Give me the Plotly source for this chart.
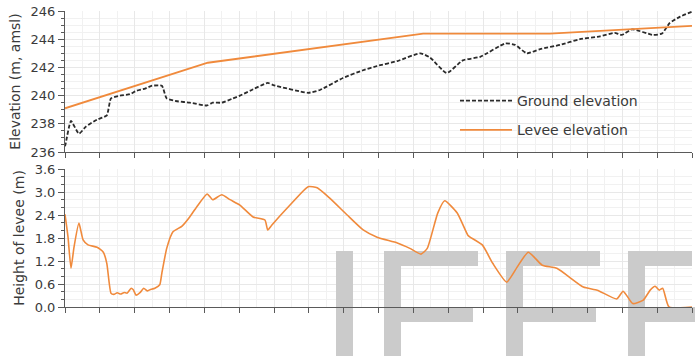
import plotly.graph_objects as go

# Chainage along the profile (m, plotting scale) and ground elevation (m amsl)
ground_x = [0, 1, 8.6, 20, 30, 46, 60, 66, 79, 93, 103, 115, 125, 139, 146, 161,
            179, 204, 212, 225, 241, 251, 266, 291, 299, 349, 366, 399, 428, 448,
            477, 510, 524, 548, 571, 596, 632, 646, 663, 682, 711, 739, 768, 789,
            799, 814, 844, 857, 868, 883, 900]
ground_z = [236.4, 236.6, 238.2, 237.3, 237.8, 238.3, 238.6, 239.8, 240.0, 240.1,
            240.35, 240.5, 240.7, 240.7, 239.8, 239.6, 239.5, 239.3, 239.5, 239.5,
            239.8, 240.0, 240.35, 240.9, 240.75, 240.2, 240.4, 241.25, 241.8, 242.1,
            242.45, 243.0, 242.7, 241.6, 242.5, 242.75, 243.7, 243.6, 243.0, 243.3,
            243.6, 244.0, 244.2, 244.45, 244.3, 244.7, 244.3, 244.4, 245.15, 245.6,
            245.95]

# Levee crest elevation (m amsl)
levee_x = [0, 205, 514, 696, 900]
levee_z = [239.1, 242.33, 244.4, 244.4, 244.95]

# Height of levee above ground (m)
height_x = [0, 4.3, 8.6, 13, 20, 26, 33, 46, 55, 60, 66, 70, 75, 80, 85, 89, 95,
            98, 102, 108, 113, 118, 122, 129, 136, 139, 146, 155, 168, 179, 189,
            204, 212, 225, 237, 251, 270, 287, 291, 297, 323, 349, 362, 380, 405,
            428, 448, 477, 495, 511, 520, 535, 545, 563, 578, 581, 599, 614, 634,
            649, 665, 685, 706, 744, 764, 792, 801, 807, 815, 830, 840, 847, 853,
            858, 867, 900]
height_h = [2.42, 1.83, 1.01, 1.57, 2.19, 1.75, 1.62, 1.56, 1.43, 1.14, 0.36, 0.33,
            0.37, 0.34, 0.38, 0.36, 0.49, 0.45, 0.31, 0.38, 0.49, 0.42, 0.45, 0.49,
            0.58, 0.88, 1.53, 1.96, 2.11, 2.35, 2.61, 2.95, 2.80, 2.93, 2.80, 2.66,
            2.35, 2.27, 2.01, 2.14, 2.66, 3.14, 3.11, 2.84, 2.40, 2.01, 1.82, 1.67,
            1.53, 1.38, 1.53, 2.45, 2.77, 2.45, 1.88, 1.83, 1.62, 1.14, 0.65, 1.04,
            1.43, 1.09, 1.01, 0.52, 0.44, 0.21, 0.41, 0.28, 0.09, 0.18, 0.44, 0.54,
            0.44, 0.49, 0.0, 0.0]

# Category labels printed under the distance axis
dist_labels = ["0", "187", "279", "362", "453", "556", "602", "651", "709",
               "750", "803", "861", "906"]

ORANGE = "#F08A3C"
AXIS = "#5a5a5a"
GRID = "#e8e8e8"
GRID_MINOR = "#f1f1f1"
TEXT = "#3a3a3a"
FONT = "DejaVu Sans"

label_pos = [5] + [86 + 69.8 * k for k in range(len(dist_labels) - 1)]

fig = go.Figure()
fig.add_trace(go.Scatter(x=ground_x, y=ground_z, mode="lines", name="Ground elevation",
                         line=dict(color="#2b2b2b", width=1.8, dash="4px,2px",
                                   shape="spline", smoothing=0.5),
                         xaxis="x", yaxis="y", legend="legend"))
fig.add_trace(go.Scatter(x=levee_x, y=levee_z, mode="lines", name="Levee elevation",
                         line=dict(color=ORANGE, width=1.8),
                         xaxis="x", yaxis="y", legend="legend2"))
fig.add_trace(go.Scatter(x=height_x, y=height_h, mode="lines", name="Height of levee",
                         line=dict(color=ORANGE, width=1.6, shape="spline",
                                   smoothing=0.5),
                         showlegend=False, xaxis="x2", yaxis="y2"))

common_x = dict(range=[0, 900], tickmode="linear", tick0=0, dtick=50,
                ticks="outside", ticklen=5, tickcolor=AXIS, showticklabels=False,
                showline=True, linecolor=AXIS, linewidth=1, zeroline=False,
                showgrid=True, gridcolor=GRID,
                minor=dict(dtick=25, showgrid=True, gridcolor=GRID_MINOR, ticks=""))
common_y = dict(ticks="outside", ticklen=6, tickcolor=AXIS, showline=True,
                linecolor=AXIS, linewidth=1, zeroline=False, showgrid=True,
                gridcolor=GRID, tickfont=dict(family=FONT, size=13, color=TEXT),
                title_font=dict(family=FONT, size=14, color=TEXT), title_standoff=6)

top_dom = [0.5236, 1.0]
bot_dom = [0.0, 0.4662]

fig.update_layout(
    width=695, height=356,
    margin=dict(l=65, r=3, t=11, b=49),
    paper_bgcolor="white", plot_bgcolor="rgba(0,0,0,0)",
    xaxis=dict(domain=[0, 1], anchor="y", **common_x),
    yaxis=dict(domain=top_dom, anchor="x", range=[236, 246], tickmode="linear",
               tick0=236, dtick=2, title_text="Elevation (m, amsl)",
               minor=dict(dtick=0.5, ticks="outside", ticklen=3, tickcolor=AXIS,
                          showgrid=True, gridcolor=GRID_MINOR),
               **common_y),
    xaxis2=dict(domain=[0, 1], anchor="y2", **common_x),
    xaxis3=dict(overlaying="x2", anchor="y2", side="bottom", range=[0, 900],
                tickmode="array", tickvals=label_pos, ticktext=dist_labels,
                ticks="", showline=False, showgrid=False, zeroline=False,
                tickfont=dict(family=FONT, size=13, color=TEXT),
                title_text="Distance from the base of the treatment site (m)",
                title_font=dict(family=FONT, size=15, color=TEXT), title_standoff=4),
    yaxis2=dict(domain=bot_dom, anchor="x2", range=[0, 3.6], tickmode="linear",
                tick0=0, dtick=0.6, tickformat=".1f", title_text="Height of levee (m)",
                minor=dict(dtick=0.2, ticks="outside", ticklen=3, tickcolor=AXIS,
                           showgrid=True, gridcolor=GRID_MINOR),
                **common_y),
    legend=dict(x=0.622, y=0.696, xanchor="left", yanchor="middle",
                bgcolor="rgba(0,0,0,0)", itemwidth=52,
                font=dict(family=FONT, size=14, color=TEXT)),
    legend2=dict(x=0.622, y=0.597, xanchor="left", yanchor="middle",
                 bgcolor="rgba(0,0,0,0)", itemwidth=52,
                 font=dict(family=FONT, size=14, color=TEXT)),
)

# Light-grey logo blocks over the lower panel (pixel boxes: x0, x1, y0, y1)
LOGO = "#cbcbcb"
blocks = [
    (336, 353, 251, 356),
    (384, 401, 251, 356), (384, 478, 251, 266), (401, 473, 307, 322),
    (506, 523, 251, 356), (506, 600, 251, 266), (523, 596, 307, 322),
    (628, 645, 251, 356), (628, 695, 251, 266), (645, 695, 307, 322),
]
PLOT_L, PLOT_W, PLOT_B, PLOT_H = 65, 627, 307, 296
AX_TOP = 307 - 0.4662 * 296


def px_to_x(px):
    return (px - PLOT_L) * 900 / PLOT_W


def px_to_h(py):
    return 3.6 * (PLOT_B - py) / (PLOT_B - AX_TOP)


for x0, x1, y0, y1 in blocks:
    # part inside the plotting area: between the grid and the curve
    if y0 < PLOT_B:
        top, bot = y0, min(y1, PLOT_B)
        fig.add_shape(type="rect", xref="x2", yref="y2", layer="between",
                      x0=px_to_x(x0), x1=px_to_x(min(x1, PLOT_L + PLOT_W)),
                      y0=px_to_h(bot), y1=px_to_h(top),
                      fillcolor=LOGO, line=dict(width=0))
    # part below the axis line
    if y1 > PLOT_B:
        top, bot = max(y0, PLOT_B), y1
        fig.add_shape(type="rect", xref="paper", yref="paper", layer="below",
                      x0=(x0 - PLOT_L) / PLOT_W, x1=(x1 - PLOT_L) / PLOT_W,
                      y0=(PLOT_B - bot) / PLOT_H, y1=(PLOT_B - top) / PLOT_H,
                      fillcolor=LOGO, line=dict(width=0))

fig.write_html("out.html")
